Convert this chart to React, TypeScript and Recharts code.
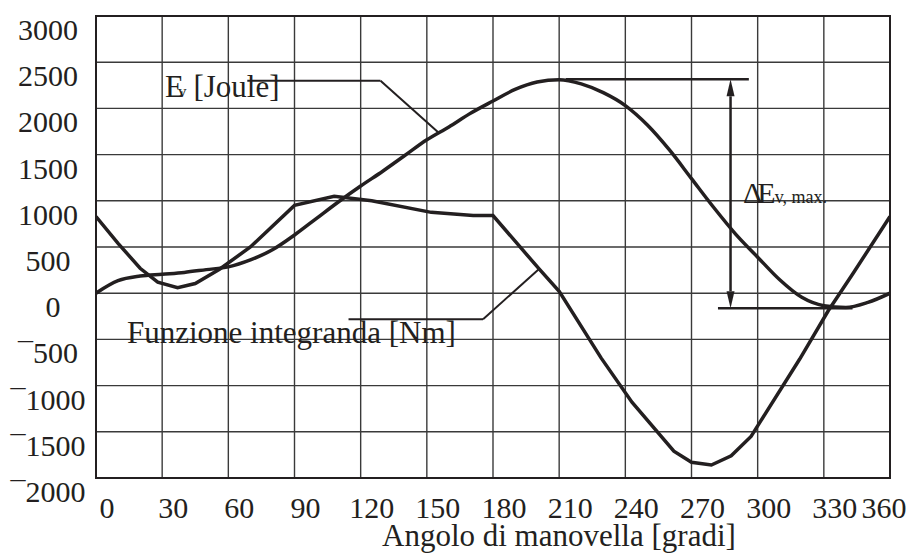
import { LineChart, Line, XAxis, YAxis, CartesianGrid, ReferenceLine, ReferenceArea } from "recharts";

// energia del volano, ogni 10 gradi
const evAngles = [
  0, 10, 20, 30, 40, 50, 60, 70, 80, 90, 100, 110, 120, 130, 140, 150, 160, 170, 180,
  190, 200, 210, 220, 230, 240, 250, 260, 270, 280, 290, 300, 310, 320, 330, 340, 350, 360,
];
const evValues = [
  0, 135, 185, 205, 225, 255, 285, 360, 470, 630, 810, 990, 1160, 1320, 1490, 1660, 1800, 1950, 2080,
  2205, 2285, 2310, 2265, 2170, 2030, 1820, 1550, 1240, 930, 640, 390, 145, -45, -135, -155, -100, 0,
];

// funzione integranda (coppia motrice - coppia resistente)
const integrandaAngles = [
  0, 10, 20, 28, 37, 45, 56, 70, 90, 108, 125, 152, 171, 180, 201, 210, 229, 243, 262, 270,
  279, 288, 297, 319, 332, 343, 360,
];
const integrandaValues = [
  830, 540, 270, 120, 60, 105, 260, 500, 950, 1050, 1000, 875, 840, 840, 260, 20, -700, -1180,
  -1710, -1830, -1860, -1760, -1550, -715, -190, 205, 830,
];

const xTicks = [0, 30, 60, 90, 120, 150, 180, 210, 240, 270, 300, 330, 360];
const yTicks = [-2000, -1500, -1000, -500, 0, 500, 1000, 1500, 2000, 2500, 3000];

const evData = evAngles.map((angle, i) => ({ angle, ev: evValues[i] }));
const integrandaData = integrandaAngles.map((angle, i) => ({ angle, fi: integrandaValues[i] }));

const INK = "#231f20";
const FONT = '"Liberation Serif", "Times New Roman", serif';

function XTick({ x, y, payload }: any) {
  const shift = payload.value === 360 ? -6 : 11;
  return (
    <text x={x + shift} y={y + 40} textAnchor="middle" fontSize={30} fontFamily={FONT} fill={INK}>
      {payload.value}
    </text>
  );
}

function YTick({ x, y, payload }: any) {
  const v = payload.value as number;
  const label = v < 0 ? "\u00af" + Math.abs(v) : String(v);
  const cx = v === 0 ? x - 43 : x - 48;
  return (
    <text x={cx} y={y + 24} textAnchor="middle" fontSize={30} fontFamily={FONT} fill={INK}>
      {label}
    </text>
  );
}

function DoubleArrow(props: any) {
  const { x1, y1, x2, y2 } = props;
  const top = Math.min(y1, y2);
  const bottom = Math.max(y1, y2);
  const w = 4;
  const h = 17;
  return (
    <g>
      <line x1={x1} y1={top + h} x2={x2} y2={bottom - h} stroke={INK} strokeWidth={2.5} />
      <path d={`M${x1},${top} L${x1 - w},${top + h} L${x1 + w},${top + h} Z`} fill={INK} />
      <path d={`M${x1},${bottom} L${x1 - w},${bottom - h} L${x1 + w},${bottom - h} Z`} fill={INK} />
    </g>
  );
}

export default function App() {
  return (
    <div style={{ position: "absolute", left: 0, top: 0, width: 913, height: 556, background: "#fff" }}>
      <LineChart width={913} height={556} margin={{ top: 16, right: 23, bottom: 0, left: 0 }}>
        <CartesianGrid stroke="#3a3a3a" strokeWidth={1.4} />
        <XAxis
          dataKey="angle"
          type="number"
          domain={[0, 360]}
          ticks={xTicks}
          height={78}
          axisLine={false}
          tickLine={false}
          tickSize={0}
          tickMargin={0}
          tick={<XTick />}
          allowDataOverflow
        />
        <YAxis
          type="number"
          domain={[-2000, 3000]}
          ticks={yTicks}
          width={96}
          axisLine={false}
          tickLine={false}
          tickSize={0}
          tickMargin={0}
          tick={<YTick />}
          allowDataOverflow
        />
        <ReferenceArea x1={0} x2={360} y1={-2000} y2={3000} fill="none" stroke={INK} strokeWidth={2} />

        {/* richiami delle etichette */}
        <ReferenceLine segment={[{ x: 68.6, y: 2300 }, { x: 129, y: 2300 }]} stroke={INK} strokeWidth={2} />
        <ReferenceLine segment={[{ x: 129, y: 2300 }, { x: 155, y: 1745 }]} stroke={INK} strokeWidth={2} />
        <ReferenceLine segment={[{ x: 114.5, y: -281 }, { x: 175.5, y: -281 }]} stroke={INK} strokeWidth={2} />
        <ReferenceLine segment={[{ x: 175.5, y: -281 }, { x: 201, y: 265 }]} stroke={INK} strokeWidth={2} />

        {/* delta E massimo */}
        <ReferenceLine segment={[{ x: 213, y: 2315 }, { x: 296, y: 2315 }]} stroke={INK} strokeWidth={2.5} />
        <ReferenceLine segment={[{ x: 282, y: -162 }, { x: 343, y: -162 }]} stroke={INK} strokeWidth={2.5} />
        <ReferenceLine segment={[{ x: 287.7, y: 2315 }, { x: 287.7, y: -162 }]} shape={<DoubleArrow />} />

        <Line
          data={evData}
          dataKey="ev"
          type="monotone"
          stroke={INK}
          strokeWidth={3.5}
          dot={false}
          isAnimationActive={false}
        />
        <Line
          data={integrandaData}
          dataKey="fi"
          type="linear"
          stroke={INK}
          strokeWidth={3.5}
          dot={false}
          isAnimationActive={false}
        />

        <text x={165} y={97} fontSize={31} fontFamily={FONT} fill={INK}>
          E
          <tspan dx={-6} fontSize={17}>v</tspan>
          <tspan dx={7} fontSize={31}>[Joule]</tspan>
        </text>
        <text x={127} y={343} fontSize={31} fontFamily={FONT} fill={INK}>
          Funzione integranda [Nm]
        </text>
        <text x={743} y={203} fontSize={30} fontFamily={FONT} fill={INK}>
          Δ
          <tspan dx={-5}>E</tspan>
          <tspan dx={-1} fontSize={18}>v, max.</tspan>
        </text>
        <text x={382} y={546} fontSize={31} fontFamily={FONT} fill={INK}>
          Angolo di manovella [gradi]
        </text>
      </LineChart>
    </div>
  );
}
